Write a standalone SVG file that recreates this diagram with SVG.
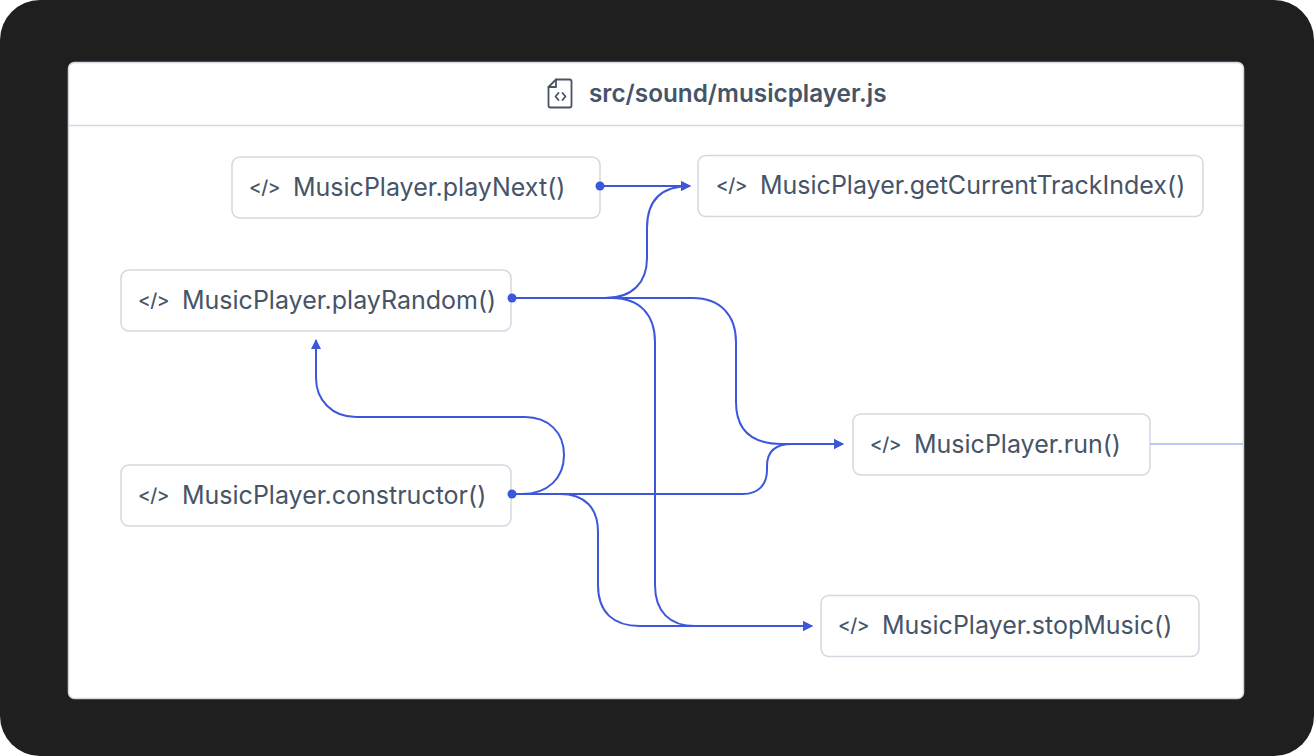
<svg xmlns="http://www.w3.org/2000/svg" width="1314" height="756" viewBox="0 0 1314 756">
<defs>
<style>
.node rect{fill:#ffffff;stroke:#d3d8e0;stroke-width:1.5}
.lbl{font-family:Inter,"Liberation Sans",sans-serif;font-size:25px;fill:#465468}
.ico{font-family:Inter,"Liberation Sans",sans-serif;font-size:19px;font-weight:500;letter-spacing:-0.5px;fill:#465468}
.edge{fill:none;stroke:#3c57db;stroke-width:2}
.dot{fill:#3c57db}
</style>
<marker id="arr" viewBox="0 0 10 10" refX="9" refY="5" markerWidth="10" markerHeight="10" markerUnits="userSpaceOnUse" orient="auto">
<path d="M0,0 L10,5 L0,10 Z" fill="#3c57db"/>
</marker>
</defs>
<rect x="0" y="0" width="1314" height="756" fill="#ffffff"/>
<rect x="0" y="0" width="1314" height="756" rx="40" fill="#1f1f1f"/>
<g id="panel">
<rect x="68.5" y="62.5" width="1175" height="636" rx="6" fill="#ffffff" stroke="#d3d8e0" stroke-width="1.5"/>
<line x1="68.5" y1="125.5" x2="1243.5" y2="125.5" stroke="#d3d8e0" stroke-width="1.5"/>
<g fill="none" stroke="#465468" stroke-width="1.8" stroke-linejoin="round" stroke-linecap="round">
<path d="M556,79.5 H569.5 a2,2 0 0 1 2,2 V105.5 a2,2 0 0 1 -2,2 H550.5 a2,2 0 0 1 -2,-2 V87 Z"/>
<path d="M556,79.5 V87 H548.5"/>
<path d="M558.5,93 L555.5,96.5 L558.5,100"/>
<path d="M562.5,93 L565.5,96.5 L562.5,100"/>
</g>
<text x="589" y="102" font-family="Inter,'Liberation Sans',sans-serif" font-size="24.3" font-weight="600" fill="#465468">src/sound/musicplayer.js</text>
</g>
<g id="node-playNext" class="node">
<rect x="232" y="157" width="368" height="61" rx="8"/>
<text class="ico" x="249" y="194">&lt;/&gt;</text>
<text class="lbl" x="293" y="196">MusicPlayer.playNext()</text>
</g>
<g id="node-getCurrentTrackIndex" class="node">
<rect x="698" y="155.5" width="505" height="61" rx="8"/>
<text class="ico" x="716" y="192">&lt;/&gt;</text>
<text class="lbl" x="760" y="194">MusicPlayer.getCurrentTrackIndex()</text>
</g>
<g id="node-playRandom" class="node">
<rect x="121" y="270" width="390" height="61" rx="8"/>
<text class="ico" x="138" y="307">&lt;/&gt;</text>
<text class="lbl" x="182" y="309">MusicPlayer.playRandom()</text>
</g>
<g id="node-run" class="node">
<rect x="853" y="414" width="297" height="61" rx="8"/>
<text class="ico" x="870" y="451">&lt;/&gt;</text>
<text class="lbl" x="914" y="453">MusicPlayer.run()</text>
</g>
<g id="node-constructor" class="node">
<rect x="121" y="465" width="390" height="61" rx="8"/>
<text class="ico" x="138" y="502">&lt;/&gt;</text>
<text class="lbl" x="182" y="504">MusicPlayer.constructor()</text>
</g>
<g id="node-stopMusic" class="node">
<rect x="821" y="595.5" width="378" height="61" rx="8"/>
<text class="ico" x="838" y="632">&lt;/&gt;</text>
<text class="lbl" x="882" y="634">MusicPlayer.stopMusic()</text>
</g>
<g id="connectors">
<path class="edge" d="M1150,444 H1243" style="stroke:#a9b6f5;stroke-width:1.5"/>
<path class="edge" marker-end="url(#arr)" d="M600,186 H690"/>
<path class="edge" marker-end="url(#arr)" d="M511,298 H605 C633,298 647,282 647,258 V228 C647,200 662,186 690,186"/>
<path class="edge" marker-end="url(#arr)" d="M511,298 H693 C720,298 736,315 736,342 V402 C736,430 752,444 782,444 H843"/>
<path class="edge" marker-end="url(#arr)" d="M511,298 H612 C640,298 655,315 655,342 V585 C655,612 670,626 695,626 H812"/>
<path class="edge" marker-end="url(#arr)" d="M511,494 H522 C548,494 564,478 564,455 C564,432 548,417 525,417 H356 C332,417 316,400 316,378 V340"/>
<path class="edge" marker-end="url(#arr)" d="M511,494 H743 C758,494 767,485 767,470 V466 C767,452 775,444 792,444 H843"/>
<path class="edge" marker-end="url(#arr)" d="M511,494 H560 C585,494 598,508 598,532 V585 C598,612 613,626 640,626 H812"/>
<circle class="dot" cx="600" cy="186" r="4.5"/>
<circle class="dot" cx="512" cy="298" r="4.5"/>
<circle class="dot" cx="512" cy="494" r="4.5"/>
</g>
</svg>
